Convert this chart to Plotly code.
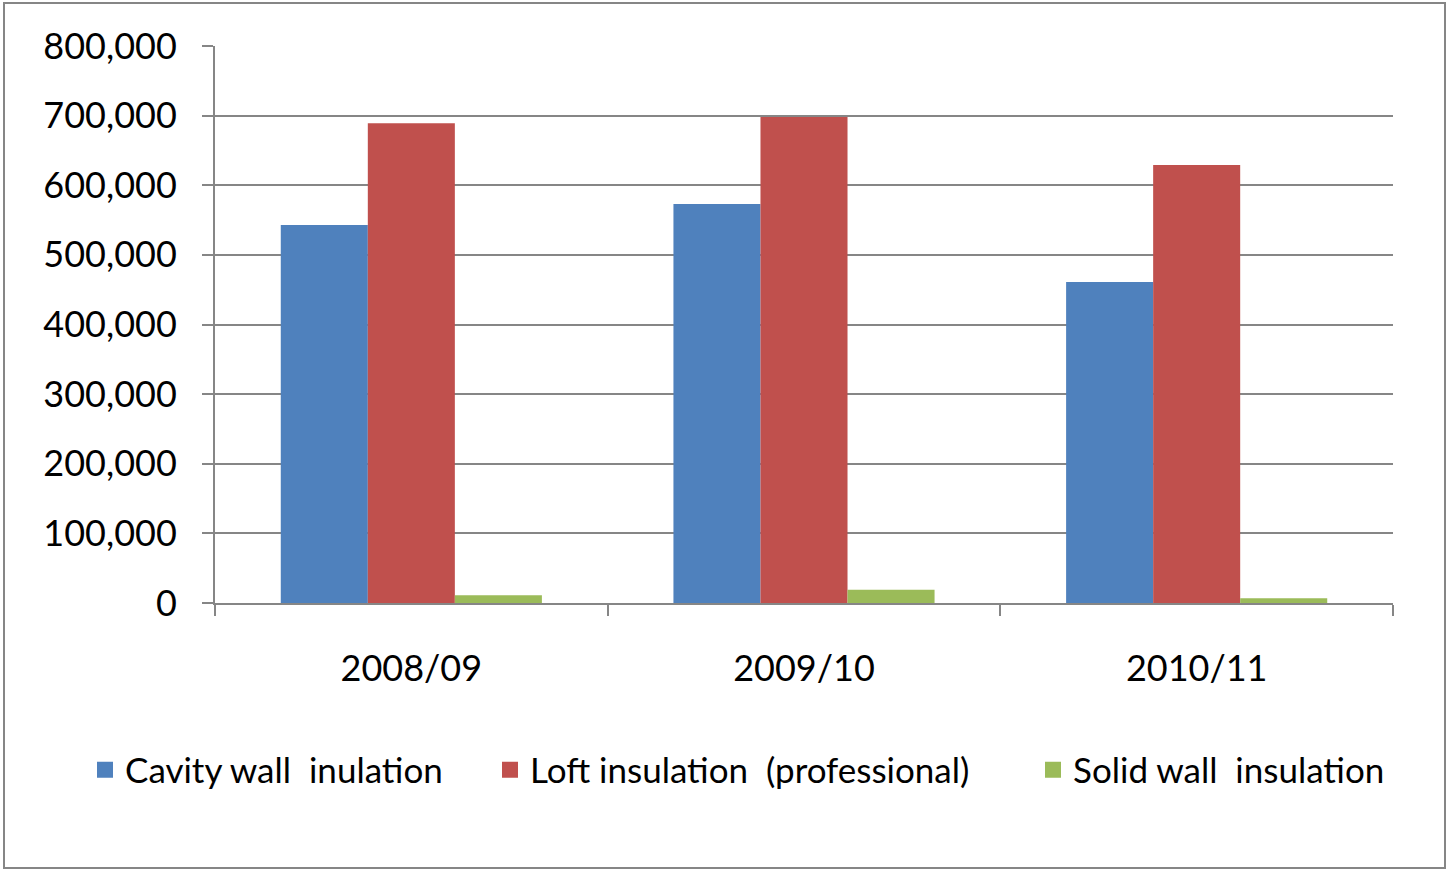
import plotly.graph_objects as go

categories = ["2008/09", "2009/10", "2010/11"]
cavity_wall = [543000, 573000, 461000]
loft = [689000, 698000, 629000]
solid_wall = [11000, 19000, 7000]
series_names = ["Cavity wall  inulation", "Loft insulation  (professional)", "Solid wall  insulation"]
colors = ["#4F81BD", "#C0504D", "#9BBB59"]
tick_vals = [0, 100000, 200000, 300000, 400000, 500000, 600000, 700000, 800000]
tick_text = ["0", "100,000", "200,000", "300,000", "400,000", "500,000", "600,000", "700,000", "800,000"]

FONT = "Lato"
W, H = 1449, 871
L, R, T, B = 215, 56, 46, 268
PW, PH = W - L - R, H - T - B

def px_x(p):
    return (p - L) / PW

def px_y(p):
    return (H - B - p) / PH

fig = go.Figure()
legend_ids = ["legend", "legend2", "legend3"]
for name, vals, col, lg in zip(series_names, [cavity_wall, loft, solid_wall], colors, legend_ids):
    fig.add_trace(go.Bar(x=categories, y=vals, name=name, marker_color=col,
                         marker_line_width=0, showlegend=False))
    fig.add_trace(go.Scatter(x=[None], y=[None], mode="markers", name=name,
                             marker=dict(symbol="square", size=22, color=col),
                             legend=lg, showlegend=True))

legend_left_px = [85, 490, 1033]
legend_common = dict(y=px_y(770), yanchor="middle", xanchor="left",
                     font=dict(family=FONT, size=35, color="black"),
                     bgcolor="rgba(0,0,0,0)", borderwidth=0, itemwidth=30)

fig.update_layout(
    width=W, height=H,
    paper_bgcolor="white", plot_bgcolor="white",
    margin=dict(l=L, r=R, t=T, b=B),
    barmode="group", bargap=0.335, bargroupgap=0,
    font=dict(family=FONT, size=36, color="black"),
    legend=dict(x=px_x(legend_left_px[0]), **legend_common),
    legend2=dict(x=px_x(legend_left_px[1]), **legend_common),
    legend3=dict(x=px_x(legend_left_px[2]), **legend_common),
    xaxis=dict(type="category", showline=True, linecolor="#868686", linewidth=2,
               ticks="outside", ticklen=11, tickwidth=2, tickcolor="#868686",
               tickson="boundaries", showgrid=False,
               tickfont=dict(family=FONT, size=36), ticklabelstandoff=33),
    yaxis=dict(range=[0, 800000], tickvals=tick_vals, ticktext=tick_text,
               showline=True, linecolor="#868686", linewidth=2,
               ticks="outside", ticklen=11, tickwidth=2, tickcolor="#868686",
               showgrid=True, gridcolor="#868686", gridwidth=2, zeroline=False,
               tickfont=dict(family=FONT, size=36), ticklabelstandoff=18),
    shapes=[dict(type="rect", xref="paper", yref="paper",
                 x0=px_x(4), x1=px_x(1445), y0=px_y(868), y1=px_y(3),
                 line=dict(color="#868686", width=2), fillcolor="rgba(0,0,0,0)", layer="below")],
)

fig.write_html("out.html", config={"displayModeBar": False},
               post_script="document.body.style.margin='0';document.body.style.overflow='hidden';")
